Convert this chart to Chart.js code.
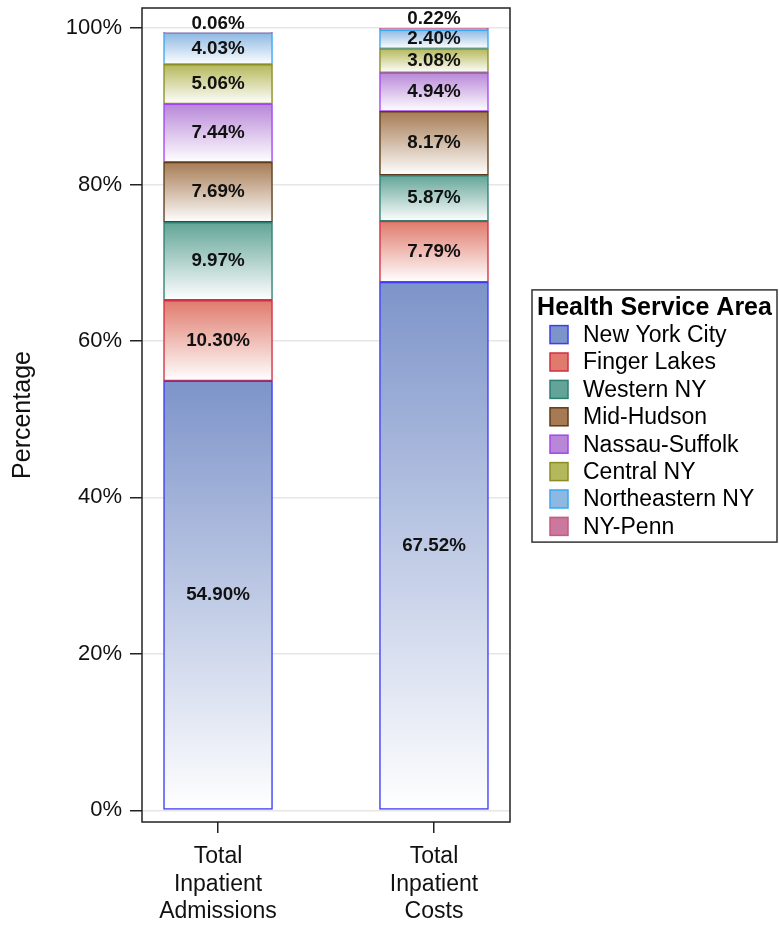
<!DOCTYPE html>
<html>
<head>
<meta charset="utf-8">
<script src="https://cdn.jsdelivr.net/npm/chart.js@4.4.1/dist/chart.umd.min.js"></script>
<style>
  html, body { margin: 0; padding: 0; background: #fff; }
  #wrap { width: 779px; height: 925px; }
</style>
</head>
<body>
<div id="wrap"><canvas id="myChart" width="779" height="925"></canvas></div>
<script>
// categories on the x axis (multi-line labels)
const categories = [
  ['Total', 'Inpatient', 'Admissions'],
  ['Total', 'Inpatient', 'Costs'],
];
const areas = ['New York City', 'Finger Lakes', 'Western NY', 'Mid-Hudson',
  'Nassau-Suffolk', 'Central NY', 'Northeastern NY', 'NY-Penn'];

// share (%) per health service area: [admissions, costs]
const newYorkCity = [54.90, 67.52];
const fingerLakes = [10.30, 7.79];
const westernNY = [9.97, 5.87];
const midHudson = [7.69, 8.17];
const nassauSuffolk = [7.44, 4.94];
const centralNY = [5.06, 3.08];
const northeasternNY = [4.03, 2.40];
const nyPenn = [0.06, 0.22];

const yTicks = [0, 20, 40, 60, 80, 100];

const series = [newYorkCity, fingerLakes, westernNY, midHudson,
  nassauSuffolk, centralNY, northeasternNY, nyPenn];

const fills = ['#7d94ca', '#e07a6c', '#62a497', '#a67b53', '#b887d8', '#b5b85a', '#8cb8e2', '#cc779c'];
const edges = ['#3c3cf5', '#d12f44', '#2e7f71', '#5e3b1a', '#a445f2', '#8b8e24', '#3aa7f2', '#c45a88'];

const FONT = '"Liberation Sans", Arial, Helvetica, sans-serif';

// vertical fade from the area colour at the top of a segment to white at its base
const segmentFill = (context, k) => {
  const { ctx, chartArea, scales } = context.chart;
  if (!chartArea || context.type !== 'data') return fills[k];
  const i = context.dataIndex;
  let base = 0;
  for (let j = 0; j < k; j++) base += series[j][i];
  const top = scales.y.getPixelForValue(base + series[k][i]);
  const bottom = scales.y.getPixelForValue(base);
  const g = ctx.createLinearGradient(0, top, 0, bottom);
  g.addColorStop(0, fills[k]);
  g.addColorStop(1, '#ffffff');
  return g;
};

const datasets = series.map((vals, k) => ({
  label: areas[k],
  data: vals.map((v, i) => ({ x: i, y: v })),
  backgroundColor: (c) => segmentFill(c, k),
  borderColor: edges[k],
  borderWidth: 1.5,
  borderSkipped: false,
  barThickness: 109,
}));

const plotFrame = {
  id: 'plotFrame',
  afterDatasetsDraw(chart) {
    const { ctx, chartArea: a } = chart;
    ctx.save();
    ctx.strokeStyle = '#222';
    ctx.lineWidth = 1.5;
    ctx.strokeRect(a.left, a.top, a.right - a.left, a.bottom - a.top);
    ctx.restore();
  },
};

const segmentLabels = {
  id: 'segmentLabels',
  afterDatasetsDraw(chart) {
    const { ctx } = chart;
    ctx.save();
    ctx.font = 'bold 18.8px ' + FONT;
    ctx.fillStyle = '#111';
    ctx.textAlign = 'center';
    ctx.textBaseline = 'middle';
    chart.data.datasets.forEach((ds, k) => {
      chart.getDatasetMeta(k).data.forEach((bar, i) => {
        const h = bar.base - bar.y;
        const y = h < 14 ? bar.y - 9 : (bar.y + bar.base) / 2;
        ctx.fillText(series[k][i].toFixed(2) + '%', bar.x, y);
      });
    });
    ctx.restore();
  },
};

const areaLegend = {
  id: 'areaLegend',
  afterDraw(chart) {
    const { ctx, chartArea } = chart;
    const left = chartArea.right + 22;
    const right = chart.width - 2;
    const rowH = 27.4;
    const titleH = 31;
    const height = titleH + rowH * areas.length + 2;
    const top = (chartArea.top + chartArea.bottom) / 2 - height / 2 + 1;
    ctx.save();
    ctx.fillStyle = '#fff';
    ctx.fillRect(left, top, right - left, height);
    ctx.strokeStyle = '#333';
    ctx.lineWidth = 1.5;
    ctx.strokeRect(left, top, right - left, height);

    ctx.fillStyle = '#000';
    ctx.textBaseline = 'middle';
    ctx.textAlign = 'center';
    ctx.font = 'bold 25px ' + FONT;
    ctx.fillText('Health Service Area', (left + right) / 2, top + 18);

    ctx.textAlign = 'left';
    ctx.font = '23px ' + FONT;
    areas.forEach((name, k) => {
      const cy = top + titleH + rowH * k + rowH / 2;
      ctx.fillStyle = fills[k];
      ctx.fillRect(left + 18, cy - 9, 18, 18);
      ctx.strokeStyle = edges[k];
      ctx.lineWidth = 1.5;
      ctx.strokeRect(left + 18, cy - 9, 18, 18);
      ctx.fillStyle = '#000';
      ctx.fillText(name, left + 51, cy + 1);
    });
    ctx.restore();
  },
};

const ctx = document.getElementById('myChart').getContext('2d');
const myChart = new Chart(ctx, {
  type: 'bar',
  data: { datasets },
  plugins: [plotFrame, segmentLabels, areaLegend],
  options: {
    responsive: false,
    devicePixelRatio: 1,
    animation: false,
    layout: { padding: { top: 8, right: 269, left: 0, bottom: 0 } },
    plugins: {
      legend: { display: false },
      tooltip: { enabled: false },
    },
    scales: {
      x: {
        type: 'linear',
        stacked: true,
        offset: false,
        min: -0.352,
        max: 1.352,
        afterBuildTicks: (axis) => { axis.ticks = categories.map((c, i) => ({ value: i })); },
        afterFit: (axis) => {
          axis.height = 103;
          axis.paddingLeft = 0;
          axis.paddingRight = 0;
        },
        border: { display: false },
        grid: { offset: false, drawOnChartArea: false, tickLength: 11, tickColor: '#222', lineWidth: 1.5 },
        ticks: {
          callback: (v) => categories[v],
          color: '#111',
          padding: 10,
          maxRotation: 0,
          font: { family: FONT, size: 23, lineHeight: 1.2 },
        },
      },
      y: {
        stacked: true,
        min: -1.5,
        max: 102.56,
        afterBuildTicks: (axis) => { axis.ticks = yTicks.map((v) => ({ value: v })); },
        afterFit: (axis) => {
          axis.width = 142;
          axis.paddingTop = 0;
          axis.paddingBottom = 0;
        },
        border: { display: false },
        grid: { color: '#e6e6e6', lineWidth: 1.5, tickLength: 12, tickColor: '#222' },
        ticks: {
          callback: (v) => v + '%',
          color: '#111',
          padding: 8,
          font: { family: FONT, size: 22 },
        },
        title: {
          display: true,
          text: 'Percentage',
          color: '#111',
          padding: { top: 8, bottom: 0 },
          font: { family: FONT, size: 25 },
        },
      },
    },
  },
});
</script>
</body>
</html>
